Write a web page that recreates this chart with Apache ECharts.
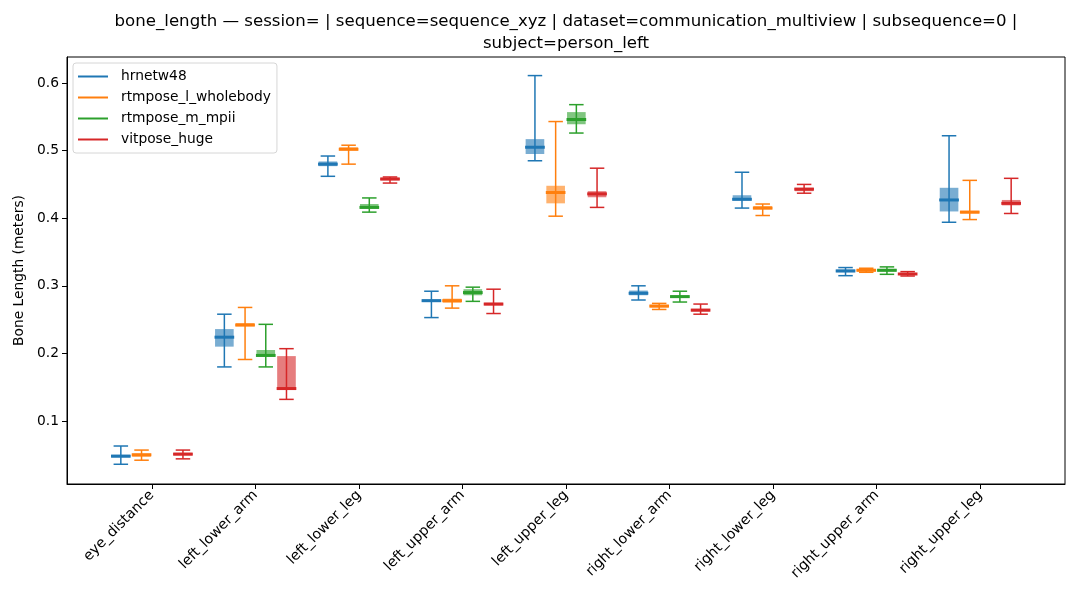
<!DOCTYPE html>
<html>
<head>
	<meta charset="utf-8">
	<title>bone_length</title>
	<style type="text/css">
		*{ padding: 0; margin: 0; }
		#chart{ width: 1080px; height: 600px; background: #fff; }
	</style>
</head>
<body>
<div id="chart"></div>
<script type="text/javascript" src="https://cdn.jsdelivr.net/npm/echarts@6/dist/echarts.min.js"></script>
<script type="text/javascript">
	// bone categories (x axis)
	var bones = ['eye_distance', 'left_lower_arm', 'left_lower_leg', 'left_upper_arm', 'left_upper_leg',
		'right_lower_arm', 'right_lower_leg', 'right_upper_arm', 'right_upper_leg'];
	var models = ['hrnetw48', 'rtmpose_l_wholebody', 'rtmpose_m_mpii', 'vitpose_huge'];
	var yTicks = [0.1, 0.2, 0.3, 0.4, 0.5, 0.6];

	// each row: [min, q1, median, q3, max] per bone, null = no data
	var hrnetw48 = [
		[0.036, 0.046, 0.048, 0.050, 0.063],
		[0.180, 0.210, 0.224, 0.236, 0.258],
		[0.462, 0.477, 0.480, 0.484, 0.492],
		[0.253, 0.276, 0.278, 0.280, 0.292],
		[0.485, 0.495, 0.505, 0.517, 0.611],
		[0.279, 0.286, 0.289, 0.293, 0.300],
		[0.415, 0.426, 0.428, 0.434, 0.468],
		[0.315, 0.320, 0.322, 0.324, 0.327],
		[0.394, 0.410, 0.427, 0.445, 0.522]
	];
	var rtmpose_l_wholebody = [
		[0.042, 0.047, 0.050, 0.052, 0.057],
		[0.191, 0.240, 0.242, 0.245, 0.268],
		[0.480, 0.500, 0.502, 0.505, 0.508],
		[0.267, 0.275, 0.278, 0.281, 0.300],
		[0.403, 0.422, 0.438, 0.448, 0.543],
		[0.265, 0.268, 0.270, 0.272, 0.274],
		[0.404, 0.413, 0.415, 0.418, 0.421],
		[0.320, 0.321, 0.323, 0.325, 0.326],
		[0.398, 0.407, 0.409, 0.411, 0.456]
	];
	var rtmpose_m_mpii = [
		null,
		[0.180, 0.195, 0.197, 0.205, 0.243],
		[0.409, 0.414, 0.416, 0.421, 0.430],
		[0.277, 0.286, 0.290, 0.295, 0.298],
		[0.526, 0.539, 0.546, 0.557, 0.568],
		[0.276, 0.282, 0.284, 0.286, 0.292],
		null,
		[0.317, 0.321, 0.323, 0.325, 0.328],
		null
	];
	var vitpose_huge = [
		[0.044, 0.049, 0.051, 0.053, 0.057],
		[0.132, 0.146, 0.148, 0.196, 0.207],
		[0.452, 0.456, 0.458, 0.460, 0.461],
		[0.259, 0.271, 0.273, 0.275, 0.295],
		[0.416, 0.431, 0.436, 0.440, 0.474],
		[0.258, 0.262, 0.264, 0.266, 0.273],
		[0.437, 0.440, 0.443, 0.445, 0.450],
		[0.3145, 0.316, 0.3175, 0.319, 0.321],
		[0.407, 0.419, 0.422, 0.427, 0.459]
	];

	var allData = [hrnetw48, rtmpose_l_wholebody, rtmpose_m_mpii, vitpose_huge];
	var colors = ['#1f77b4', '#ff7f0e', '#2ca02c', '#d62728'];
	var offsets = [-0.3, -0.1, 0.1, 0.3];
	var font = 'DejaVu Sans';

	function makeSeries(k) {
		var rows = [];
		allData[k].forEach(function (r, i) {
			if (r) rows.push([i].concat(r));
		});
		return {
			type: 'custom',
			name: models[k],
			itemStyle: { color: colors[k] },
			encode: { x: 0, y: [1, 2, 3, 4, 5] },
			data: rows,
			renderItem: function (params, api) {
				var x = api.value(0) + offsets[k];
				var unit = api.size([1, 0])[0];
				var c = colors[k];
				var pMin = api.coord([x, api.value(1)]);
				var pQ1 = api.coord([x, api.value(2)]);
				var pMed = api.coord([x, api.value(3)]);
				var pQ3 = api.coord([x, api.value(4)]);
				var pMax = api.coord([x, api.value(5)]);
				var bw = 0.09 * unit, cw = 0.07 * unit, mw = 0.095 * unit;
				return {
					type: 'group',
					children: [
						{ type: 'rect', shape: { x: pQ3[0] - bw, y: pQ3[1], width: bw * 2, height: Math.max(pQ1[1] - pQ3[1], 1) },
							style: { fill: c, opacity: 0.6 } },
						{ type: 'line', shape: { x1: pMin[0], y1: pMin[1], x2: pMax[0], y2: pMax[1] },
							style: { stroke: c, lineWidth: 1.5 } },
						{ type: 'line', shape: { x1: pMin[0] - cw, y1: pMin[1], x2: pMin[0] + cw, y2: pMin[1] },
							style: { stroke: c, lineWidth: 1.5 } },
						{ type: 'line', shape: { x1: pMax[0] - cw, y1: pMax[1], x2: pMax[0] + cw, y2: pMax[1] },
							style: { stroke: c, lineWidth: 1.5 } },
						{ type: 'line', shape: { x1: pMed[0] - mw, y1: pMed[1], x2: pMed[0] + mw, y2: pMed[1] },
							style: { stroke: c, lineWidth: 3 } }
					]
				};
			}
		};
	}

	var chart = echarts.init(document.getElementById('chart'));
	var option = {
		animation: false,
		backgroundColor: '#fff',
		textStyle: { fontFamily: font },
		graphic: [{
			type: 'text',
			x: 566,
			y: 11,
			style: {
				text: 'bone_length — session= | sequence=sequence_xyz | dataset=communication_multiview | subsequence=0 |\nsubject=person_left',
				font: '16.6px "DejaVu Sans"',
				fill: '#000',
				textAlign: 'center',
				lineHeight: 22
			}
		}],
		legend: {
			orient: 'vertical',
			left: 73,
			top: 63,
			padding: [3, 6, 3, 5],
			itemGap: 0,
			itemWidth: 30,
			itemHeight: 2,
			icon: 'rect',
			borderColor: '#d6d6d6',
			borderWidth: 1,
			borderRadius: 3,
			backgroundColor: 'rgba(255,255,255,0.8)',
			textStyle: { fontFamily: font, fontSize: 13.8, color: '#000', lineHeight: 21, padding: [0, 0, 0, 8] },
			data: models
		},
		grid: {
			left: 67, right: 15, top: 57, bottom: 116,
			show: true, borderColor: '#000', borderWidth: 1
		},
		xAxis: {
			type: 'value',
			min: -0.82,
			max: 8.82,
			splitLine: { show: false },
			axisLine: { show: true, onZero: false, lineStyle: { color: '#000' } },
			axisTick: { show: true, customValues: bones.map(function (b, i) { return i; }), length: 5, lineStyle: { color: '#000' } },
			axisLabel: {
				customValues: bones.map(function (b, i) { return i; }),
				rotate: 45,
				margin: 9,
				fontSize: 14.2,
				color: '#000',
				fontFamily: font,
				formatter: function (v) { return bones[Math.round(v)]; }
			}
		},
		yAxis: {
			type: 'value',
			min: 0.0068,
			max: 0.6385,
			name: 'Bone Length (meters)',
			nameLocation: 'middle',
			nameGap: 40,
			nameTextStyle: { fontSize: 13.8, color: '#000', fontFamily: font },
			splitLine: { show: false },
			axisLine: { show: true, onZero: false, lineStyle: { color: '#000' } },
			axisTick: { show: true, customValues: yTicks, length: 5, lineStyle: { color: '#000' } },
			axisLabel: {
				customValues: yTicks,
				fontSize: 13.8,
				color: '#000',
				fontFamily: font,
				margin: 8,
				formatter: function (v) { return v.toFixed(1); }
			}
		},
		series: [makeSeries(0), makeSeries(1), makeSeries(2), makeSeries(3)]
	};
	chart.setOption(option);
</script>
</body>
</html>
